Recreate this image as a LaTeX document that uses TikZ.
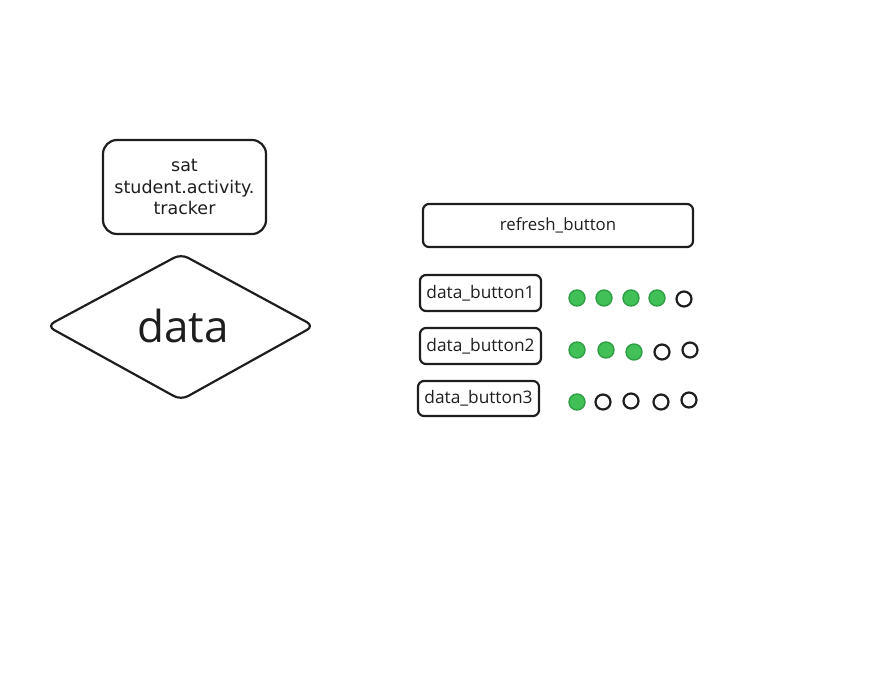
\documentclass[tikz,border=0pt]{standalone}
\usepackage{fontspec}
\setmainfont{Open Sans}
\newfontfamily\handfont{DejaVu Sans}
\usetikzlibrary{shapes.geometric}
\definecolor{ink}{HTML}{1E1E1E}
\definecolor{dotgreen}{HTML}{40C057}
\definecolor{dotedge}{HTML}{2F9E44}
\begin{document}
\begin{tikzpicture}[x=1pt,y=-1pt,
  box/.style={draw=ink,line width=2.2pt,rounded corners=6pt,inner sep=0pt,text=ink},
  btn/.style={box,font=\fontsize{17.3}{20}\selectfont},
  full/.style={circle,draw=dotedge,fill=dotgreen,line width=1.4pt,minimum size=16pt,inner sep=0pt},
  empty/.style={circle,draw=ink,fill=white,line width=2.2pt,minimum size=15pt,inner sep=0pt}]
\useasboundingbox (0,0) rectangle (872,686);
% title box
\node[box,rounded corners=14pt,minimum width=163pt,minimum height=94pt,align=center,
  font=\handfont\fontsize{17.5}{21.5}\selectfont] (title) at (184.5,187)
  {sat\\student.activity.\\tracker};
% diamond
\draw[ink,line width=2.2pt,rounded corners=8pt] (47,326) -- (181,254) -- (314,326) -- (181,400) -- cycle;
\node[text=ink,font=\fontsize{44}{48}\selectfont] (data) at (183,326) {data};
% buttons
\node[btn,font=\fontsize{16.8}{20}\selectfont,minimum width=270pt,minimum height=43pt] (refresh) at (558,225.5) {refresh\_button};
\node[btn,minimum width=121pt,minimum height=36pt] (b1) at (480.5,293) {data\_button1};
\node[btn,minimum width=121pt,minimum height=36pt] (b2) at (480.5,346) {data\_button2};
\node[btn,minimum width=121pt,minimum height=35pt] (b3) at (478.5,398.5) {data\_button3};
% row 1
\node[full] (r1a) at (577,298) {};
\node[full] (r1b) at (604,298) {};
\node[full] (r1c) at (631,298) {};
\node[full] (r1d) at (657,298) {};
\node[empty] (r1e) at (684,299) {};
% row 2
\node[full] (r2a) at (577,350) {};
\node[full] (r2b) at (606,350) {};
\node[full] (r2c) at (634,352) {};
\node[empty] (r2d) at (662,352) {};
\node[empty] (r2e) at (690,350) {};
% row 3
\node[full] (r3a) at (577,402) {};
\node[empty] (r3b) at (603,402) {};
\node[empty] (r3c) at (631,401) {};
\node[empty] (r3d) at (661,402) {};
\node[empty] (r3e) at (689,400) {};
\end{tikzpicture}
\end{document}
